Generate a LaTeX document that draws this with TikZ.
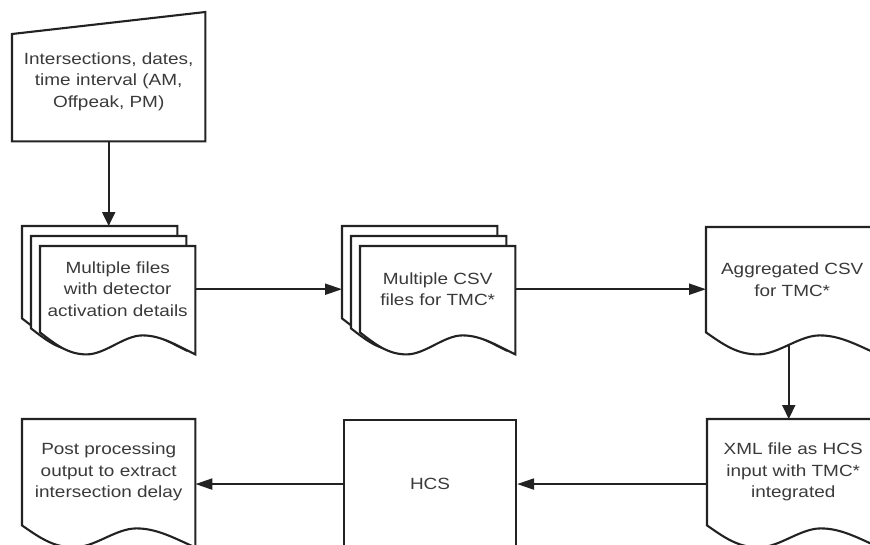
\documentclass[tikz,border=0pt]{standalone}
\usepackage{fontspec}
\setmainfont{Liberation Sans}[FakeStretch=1.17]
\usetikzlibrary{calc,arrows.meta}
\pgfdeclarelayer{background}
\pgfsetlayers{background,main}
\definecolor{linec}{HTML}{222222}
\definecolor{txtc}{HTML}{3A3A3A}
\tikzset{
  shapeline/.style={draw=linec, line width=2.1pt, fill=white, line join=miter},
  body/.style={inner sep=0pt, minimum width=#1, text=txtc, align=center,
    font=\fontsize{16.2}{21.5}\selectfont, anchor=north west},
  harr/.style={draw=linec, line width=2.1pt, -{Triangle[length=17pt,width=11pt]}},
  varr/.style={draw=linec, line width=2.1pt, -{Triangle[length=14pt,width=13pt]}},
}
% document shape with wavy bottom, drawn behind node #1
\newcommand\docwave[1]{%
  \begin{pgfonlayer}{background}
  \draw[shapeline] (#1.south west) -- (#1.north west) -- (#1.north east)
    -- ($(#1.south east)+(0,22)$)
    .. controls ($(#1.south west)!0.88!(#1.south east)+(0,13)$) and ($(#1.south west)!0.78!(#1.south east)+(0,3)$) .. ($(#1.south west)!0.66!(#1.south east)+(0,3)$)
    .. controls ($(#1.south west)!0.54!(#1.south east)+(0,3)$) and ($(#1.south west)!0.42!(#1.south east)+(0,22)$) .. ($(#1.south west)!0.3!(#1.south east)+(0,22)$)
    .. controls ($(#1.south west)!0.18!(#1.south east)+(0,22)$) and ($(#1.south west)!0.1!(#1.south east)+(0,12)$) .. (#1.south west)
    -- cycle;
  \end{pgfonlayer}}
\begin{document}
\begin{tikzpicture}[x=1pt,y=-1pt]
\useasboundingbox (0,0) rectangle (870,544);

% manual input
\node[body=193pt, minimum height=119pt] (inp) at (12,22) {Intersections, dates,\\time interval (AM,\\Offpeak, PM)};
\begin{pgfonlayer}{background}
\draw[shapeline] (inp.south west) -- ($(inp.north west)+(0,12)$) -- ($(inp.north east)+(0,-10)$) -- (inp.south east) -- cycle;
\end{pgfonlayer}

% multiple files 1
\node[body=155pt, minimum height=92pt] (d1a) at (22,226) {};
\docwave{d1a}
\node[body=155pt, minimum height=92pt] (d1b) at (31,236) {};
\docwave{d1b}
\node[body=155pt, minimum height=86pt] (d1c) at (40,246) {Multiple files\\with detector\\activation details};
\docwave{d1c}

% multiple files 2
\node[body=155pt, minimum height=92pt] (d2a) at (342,226) {};
\docwave{d2a}
\node[body=155pt, minimum height=92pt] (d2b) at (351,236) {};
\docwave{d2b}
\node[body=155pt, minimum height=86pt] (d2c) at (360,246) {Multiple CSV\\files for TMC*};
\docwave{d2c}

% aggregated
\node[body=172pt, minimum height=105pt] (agg) at (706,227) {Aggregated CSV\\for TMC*};
\docwave{agg}

% xml
\node[body=172pt, minimum height=106pt] (xml) at (707,419) {XML file as HCS\\input with TMC*\\integrated};
\docwave{xml}

% HCS
\node[body=172pt, minimum height=128pt, draw=linec, fill=white, line width=2.1pt] (hcs) at (343,419) {HCS};

% post processing
\node[body=173pt, minimum height=106pt] (post) at (22,419) {Post processing\\output to extract\\intersection delay};
\docwave{post}

% connectors
\draw[varr] (inp.south) -- (inp.south |- d1a.north);
\draw[harr] (d1c.east) -- (d1c.east -| d2a.west);
\draw[harr] (d2c.east) -- (d2c.east -| agg.west);
\coordinate (aggout) at ($(agg.south west)!0.48!(agg.south east)+(0,12.5)$);
\draw[varr] (aggout) -- (aggout |- xml.north);
\draw[harr] (xml.west |- hcs.east) -- (hcs.east);
\draw[harr] (hcs.west) -- (hcs.west -| post.east);
\end{tikzpicture}
\end{document}
